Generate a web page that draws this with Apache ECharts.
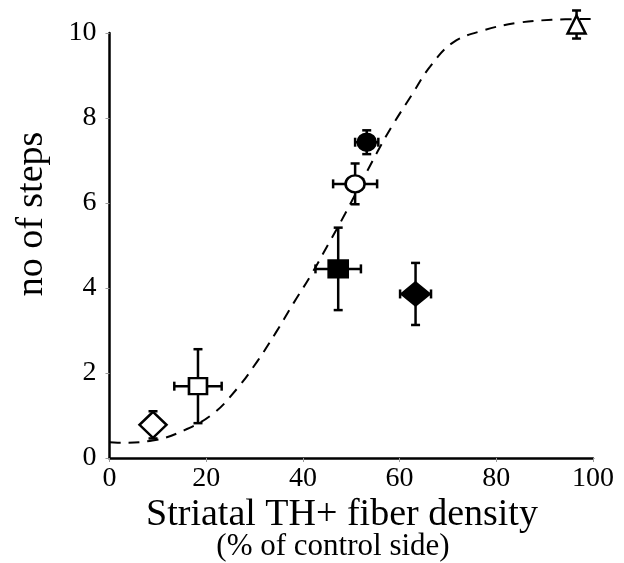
<!DOCTYPE html>
<html>
<head>
<meta charset="utf-8">
<script src="https://cdn.jsdelivr.net/npm/echarts@6/dist/echarts.min.js"></script>
<style>html,body{margin:0;padding:0;background:#fff}#c{width:624px;height:563px}</style>
</head>
<body>
<div id="c"></div>
<script>
// Fitted curve
const curveX = [0, 1.7, 8.9, 15.4, 21.4, 26.3, 30.6, 34.4, 38.1, 41.8, 45.3, 48.7, 55.3, 58.6, 62.5, 66.3, 71.1, 77.6, 84.5, 91.5, 100];
const curveY = [0.37, 0.36, 0.41, 0.65, 1.04, 1.62, 2.28, 2.95, 3.65, 4.33, 5.04, 5.74, 7.18, 7.84, 8.54, 9.21, 9.78, 10.07, 10.24, 10.31, 10.33];
// Groups: [x, y, xErr, yErr]
const openDiamond = [9.0, 0.78, 0, 0.32];
const openSquare = [18.3, 1.69, 4.9, 0.87];
const filledSquare = [47.3, 4.45, 4.7, 0.97];
const filledDiamond = [63.3, 3.86, 3.2, 0.73];
const openCircle = [50.8, 6.45, 4.55, 0.48];
const filledCircle = [53.2, 7.43, 2.4, 0.28];
const openTriangle = [96.6, 10.2, 0, 0.33];
const xTicks = [0, 20, 40, 60, 80, 100];
const yTicks = [0, 2, 4, 6, 8, 10];

const allPts = [openDiamond, openSquare, filledSquare, filledDiamond, openCircle, filledCircle, openTriangle];
const font = '"Liberation Serif", "Times New Roman", serif';

function sc(pt, symbol, size, filled) {
  return {
    type: 'scatter', data: [[pt[0], pt[1]]], symbol: symbol, symbolSize: size,
    itemStyle: { color: filled ? '#000' : '#fff', borderColor: '#000', borderWidth: 2.5, opacity: 1 },
    z: 5, clip: false, silent: true
  };
}

const chart = echarts.init(document.getElementById('c'), null, { renderer: 'canvas' });
chart.setOption({
  animation: false,
  grid: { left: 109.5, right: 31, top: 33, bottom: 105 },
  xAxis: {
    type: 'value', min: 0, max: 100, interval: 20,
    axisLine: { lineStyle: { color: '#000', width: 2.5 } },
    axisTick: { length: 4, lineStyle: { color: '#999', width: 1 } },
    axisLabel: { color: '#000', fontFamily: font, fontSize: 28, margin: 7,
      formatter: v => xTicks.includes(v) ? String(v) : '' },
    splitLine: { show: false }
  },
  yAxis: {
    type: 'value', min: 0, max: 10, interval: 2,
    axisLine: { show: true, lineStyle: { color: '#000', width: 2.5 } },
    axisTick: { show: true, length: 4, lineStyle: { color: '#999', width: 1 } },
    axisLabel: { color: '#000', fontFamily: font, fontSize: 28, margin: 13,
      formatter: v => yTicks.includes(v) ? String(v) : '' },
    splitLine: { show: false }
  },
  graphic: [
    { type: 'text', style: { text: 'no of steps', font: '38px ' + font, fill: '#000',
      textAlign: 'center', textVerticalAlign: 'middle' }, rotation: Math.PI / 2, x: 32, y: 214 },
    { type: 'text', style: { text: 'Striatal TH+ fiber density', font: '38px ' + font, fill: '#000',
      textAlign: 'center', textVerticalAlign: 'middle' }, x: 342, y: 515 },
    { type: 'text', style: { text: '(% of control side)', font: '31px ' + font, fill: '#000',
      textAlign: 'center', textVerticalAlign: 'middle' }, x: 333, y: 547 }
  ],
  series: [
    {
      type: 'line', data: curveX.map((x, i) => [x, curveY[i]]), smooth: 0.4, showSymbol: false,
      lineStyle: { color: '#000', width: 2, type: [11, 8] }, clip: false, z: 1, silent: true
    },
    {
      type: 'custom', data: allPts, clip: false, z: 3, silent: true,
      renderItem: function (params, api) {
        const x = api.value(0), y = api.value(1), ex = api.value(2), ey = api.value(3);
        const st = { stroke: '#000', lineWidth: 2.5 };
        const ch = [];
        const cap = 4.5;
        if (ey > 0) {
          const t = api.coord([x, y + ey]), b = api.coord([x, y - ey]);
          ch.push({ type: 'line', shape: { x1: t[0], y1: t[1], x2: b[0], y2: b[1] }, style: st });
          ch.push({ type: 'line', shape: { x1: t[0] - cap, y1: t[1], x2: t[0] + cap, y2: t[1] }, style: st });
          ch.push({ type: 'line', shape: { x1: b[0] - cap, y1: b[1], x2: b[0] + cap, y2: b[1] }, style: st });
        }
        if (ex > 0) {
          const l = api.coord([x - ex, y]), r = api.coord([x + ex, y]);
          ch.push({ type: 'line', shape: { x1: l[0], y1: l[1], x2: r[0], y2: r[1] }, style: st });
          ch.push({ type: 'line', shape: { x1: l[0], y1: l[1] - cap, x2: l[0], y2: l[1] + cap }, style: st });
          ch.push({ type: 'line', shape: { x1: r[0], y1: r[1] - cap, x2: r[0], y2: r[1] + cap }, style: st });
        }
        return { type: 'group', children: ch };
      }
    },
    sc(openDiamond, 'diamond', [27, 26], false),
    sc(openSquare, 'rect', [18, 16], false),
    sc(filledSquare, 'rect', [19, 17], true),
    sc(filledDiamond, 'diamond', [28, 23], true),
    sc(openCircle, 'circle', [19, 17], false),
    sc(filledCircle, 'circle', [18, 17], true),
    sc(openTriangle, 'triangle', [18, 18], false)
  ]
});
</script>
</body>
</html>
